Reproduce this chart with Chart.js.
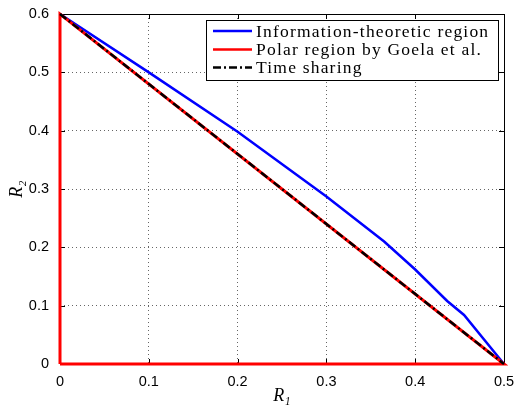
<!DOCTYPE html>
<html lang="en">
<head>
<meta charset="UTF-8">
<script src="https://cdn.jsdelivr.net/npm/chart.js"></script>
<title>Rate region</title>
<style>
  html, body { margin: 0; padding: 0; background: #fff; }
  #wrap { width: 518px; height: 408px; }
</style>
</head>
<body>
<div id="wrap"><canvas id="regiao"></canvas></div>

<script>
// valores
const r1Info = [0, 0.1, 0.2, 0.3, 0.365, 0.4, 0.436, 0.455, 0.5];
const r2Info = [0.6, 0.5, 0.398, 0.287, 0.21, 0.162, 0.108, 0.084, 0];

const r1Polar = [0, 0, 0.5, 0];
const r2Polar = [0, 0.6, 0, 0];

const r1Time = [0, 0.5];
const r2Time = [0.6, 0];

const xTicks = [0, 0.1, 0.2, 0.3, 0.4, 0.5];
const yTicks = [0, 0.1, 0.2, 0.3, 0.4, 0.5, 0.6];

const legendLabels = [
  'Information-theoretic region',
  'Polar region by Goela et al.',
  'Time sharing'
];

function pontos(xs, ys) {
  return xs.map(function (x, i) { return { x: x, y: ys[i] }; });
}

function rotulo(v) {
  return v === 0 ? '0' : Number(v).toFixed(1);
}

// moldura e tracinhos para dentro (antes das linhas)
const molduraPlugin = {
  id: 'moldura',
  beforeDatasetsDraw(chart) {
    const ctx = chart.ctx;
    const a = chart.chartArea;
    const xs = chart.scales.x;
    const ys = chart.scales.y;
    ctx.save();
    ctx.strokeStyle = '#000';
    ctx.lineWidth = 1;
    ctx.setLineDash([]);
    ctx.strokeRect(Math.round(a.left) + 0.5, Math.round(a.top) + 0.5,
      Math.round(a.right - a.left), Math.round(a.bottom - a.top));

    ctx.beginPath();
    xTicks.forEach(function (t) {
      const px = Math.round(xs.getPixelForValue(t)) + 0.5;
      ctx.moveTo(px, a.bottom); ctx.lineTo(px, a.bottom - 5);
      ctx.moveTo(px, a.top); ctx.lineTo(px, a.top + 5);
    });
    yTicks.forEach(function (t) {
      const py = Math.round(ys.getPixelForValue(t)) + 0.5;
      ctx.moveTo(a.left, py); ctx.lineTo(a.left + 5, py);
      ctx.moveTo(a.right, py); ctx.lineTo(a.right - 5, py);
    });
    ctx.stroke();
    ctx.restore();
  },
  // legenda dentro do grafico
  afterDraw(chart) {
    const ctx = chart.ctx;
    ctx.save();
    const bx = 206, by = 20, bw = 292, bh = 60;
    ctx.fillStyle = '#fff';
    ctx.fillRect(bx, by, bw, bh);
    ctx.strokeStyle = '#000';
    ctx.lineWidth = 1;
    ctx.strokeRect(bx + 0.5, by + 0.5, bw, bh);

    const estilos = [
      { cor: '#0000ff', dash: [] },
      { cor: '#ff0000', dash: [] },
      { cor: '#000000', dash: [8, 3, 2, 3] }
    ];
    const linhasY = [31, 49.5, 67.5];
    ctx.font = '17.5px "Liberation Serif", "DejaVu Serif", serif';
    ctx.letterSpacing = '1.2px';
    ctx.textBaseline = 'middle';
    ctx.textAlign = 'left';
    legendLabels.forEach(function (txt, i) {
      ctx.beginPath();
      ctx.strokeStyle = estilos[i].cor;
      ctx.lineWidth = 2.5;
      ctx.setLineDash(estilos[i].dash);
      ctx.moveTo(213, linhasY[i]);
      ctx.lineTo(252, linhasY[i]);
      ctx.stroke();
      ctx.setLineDash([]);
      ctx.fillStyle = '#000';
      ctx.fillText(txt, 256, linhasY[i] + 1);
    });
    ctx.restore();
  }
};

const config = {
  type: 'scatter',
  data: {
    datasets: [
      {
        label: legendLabels[2],
        data: pontos(r1Time, r2Time),
        showLine: true,
        borderColor: '#000000',
        borderWidth: 2.5,
        borderDash: [8, 3, 2, 3],
        pointRadius: 0,
        fill: false,
        clip: false,
        order: 0
      },
      {
        label: legendLabels[1],
        data: pontos(r1Polar, r2Polar),
        showLine: true,
        borderColor: '#ff0000',
        borderWidth: 3,
        pointRadius: 0,
        fill: false,
        clip: false,
        order: 1
      },
      {
        label: legendLabels[0],
        data: pontos(r1Info, r2Info),
        showLine: true,
        borderColor: '#0000ff',
        borderWidth: 2.5,
        pointRadius: 0,
        fill: false,
        clip: false,
        order: 2
      }
    ]
  },
  options: {
    responsive: true,
    maintainAspectRatio: false,
    animation: false,
    layout: { padding: { top: 14, right: 14, left: 0, bottom: 0 } },
    plugins: {
      legend: { display: false },
      tooltip: { enabled: false }
    },
    scales: {
      x: {
        type: 'linear',
        min: 0,
        max: 0.5,
        afterFit: function (s) { s.height = 44; s.paddingLeft = 0; s.paddingRight = 0; },
        afterBuildTicks: function (s) { s.ticks = xTicks.map(function (v) { return { value: v }; }); },
        grid: { color: '#666', lineWidth: 1, drawTicks: false },
        border: { display: false, dash: [1, 3] },
        ticks: {
          padding: 9,
          color: '#000',
          font: { family: '"Liberation Sans", Arial, sans-serif', size: 14.5 },
          callback: rotulo
        },
        title: {
          display: true,
          text: 'R\u2081',
          color: '#000',
          padding: { top: 0, bottom: 1 },
          font: { family: '"Liberation Serif", "DejaVu Serif", serif', size: 18, style: 'italic' }
        }
      },
      y: {
        type: 'linear',
        min: 0,
        max: 0.6,
        afterFit: function (s) { s.width = 60; s.paddingTop = 0; s.paddingBottom = 0; },
        afterBuildTicks: function (s) { s.ticks = yTicks.map(function (v) { return { value: v }; }); },
        grid: { color: '#666', lineWidth: 1, drawTicks: false },
        border: { display: false, dash: [1, 3] },
        ticks: {
          padding: 11,
          color: '#000',
          font: { family: '"Liberation Sans", Arial, sans-serif', size: 14.5 },
          callback: rotulo
        },
        title: {
          display: true,
          text: 'R\u2082',
          color: '#000',
          padding: { top: 6, bottom: 0 },
          font: { family: '"Liberation Serif", "DejaVu Serif", serif', size: 18, style: 'italic' }
        }
      }
    }
  },
  plugins: [molduraPlugin]
};

const grafico = new Chart(document.getElementById('regiao'), config);
</script>
</body>
</html>
